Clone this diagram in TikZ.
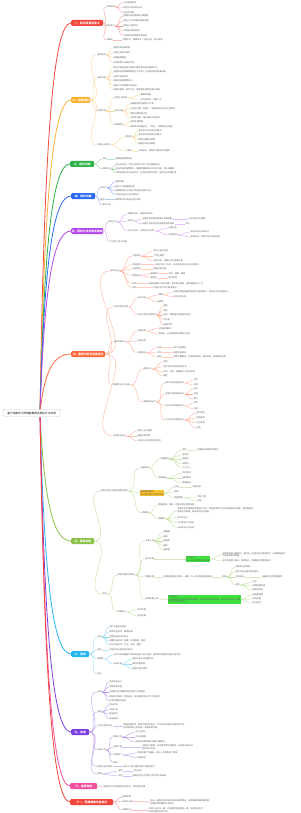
\documentclass[tikz,border=0pt]{standalone}
\usepackage{fontspec}
\newfontfamily\cjk{Noto Sans CJK SC}
\definecolor{cR}{HTML}{F2473F}
\definecolor{cY}{HTML}{F8B133}
\definecolor{cG}{HTML}{2DB34A}
\definecolor{cB}{HTML}{2C6BF0}
\definecolor{cP}{HTML}{B347E8}
\definecolor{cC}{HTML}{FF6B3F}
\definecolor{cL}{HTML}{8BC34A}
\definecolor{cCy}{HTML}{27B5F2}
\definecolor{cV}{HTML}{7B3FE0}
\definecolor{cPk}{HTML}{F0509C}
\definecolor{cRt}{HTML}{F4453C}
\definecolor{hY}{HTML}{F5BE2A}
\definecolor{hG}{HTML}{3DE03D}
\tikzset{
  lf/.style={font=\cjk\fontsize{2.1}{2.6}\selectfont, inner sep=0.3pt, anchor=west, text=black!62, align=left},
  Lone/.style={font=\cjk\bfseries\fontsize{2.8}{3.2}\selectfont, text=white, fill=#1, rounded corners=1.2pt, inner sep=0.6pt, minimum height=6pt, anchor=west},
  lk/.style={draw=#1, line width=0.8pt},
  br/.style={cl/.style={draw=#1!55, line width=.35pt}, chl/.style={draw=#1!35, line width=.8pt}},
}
\newcommand\kd[4]{\node[lf] (#2) at (#3) {#4}; \draw[cl] (#1.east) to[out=0,in=180] (#2.west);}
\newcommand\chn[4]{\node[lf] (#2) at (#3) {#4}; \draw[chl] (#1.east) -- (#2.west);}
\begin{document}
\begin{tikzpicture}[x=1pt,y=-1pt]
\fill[white] (0,0) rectangle (300,813);
\useasboundingbox (0,0) rectangle (300,813);

% level-1 nodes
\node[Lone=cR, minimum width=32pt] (r) at (71,23) {一、研究背景及意义};
\node[Lone=cY, minimum width=19pt] (y) at (71,100) {二、文献综述};
\node[Lone=cG, minimum width=24pt] (g) at (70,164) {三、研究目标};
\node[Lone=cB, minimum width=24pt] (b) at (71,196) {四、研究内容};
\node[Lone=cP, minimum width=32pt] (p) at (71,231) {五、研究方法与技术路线};
\node[Lone=cC, minimum width=34pt] (c) at (71,354) {六、需求分析与总体设计};
\node[Lone=cL, minimum width=23pt] (l) at (71,541) {七、系统实现};
\node[Lone=cCy, minimum width=18pt] (cy) at (71,654) {八、测试};
\node[Lone=cV, minimum width=18pt] (v) at (71,732) {九、总结};
\node[Lone=cPk, minimum width=27pt] (pk) at (70,786) {十、进度安排};
\node[Lone=cRt, minimum width=43pt] (rt) at (70,802) {十一、预期成果与创新点};

\coordinate (o) at (40,413);
\draw[lk=cR] (o) .. controls (44,159.5) and (52,23) .. (r.west);
\draw[lk=cY] (o) .. controls (44,209.6) and (52,100) .. (y.west);
\draw[lk=cG] (o) .. controls (44,251) and (52,164) .. (g.west);
\draw[lk=cB] (o) .. controls (44,272) and (52,196) .. (b.west);
\draw[lk=cP] (o) .. controls (44,294.7) and (52,231) .. (p.west);
\draw[lk=cC] (o) .. controls (44,374.7) and (52,354) .. (c.west);
\draw[lk=cL] (o) .. controls (44,496.2) and (52,541) .. (l.west);
\draw[lk=cCy] (o) .. controls (44,569.6) and (52,654) .. (cy.west);
\draw[lk=cV] (o) .. controls (44,620.4) and (52,732) .. (v.west);
\draw[lk=cPk] (o) .. controls (44,655.4) and (52,786) .. (pk.west);
\draw[lk=cRt] (o) .. controls (44,666) and (52,802) .. (rt.west);

\node[font=\cjk\fontsize{2.7}{3.2}\selectfont, draw=black!20, fill=white, rounded corners=2pt, minimum width=57pt, minimum height=7.5pt, inner sep=0.5pt, anchor=west, line width=.4pt] (root) at (3,413) {基于深度学习的智能推荐系统设计与实现};

% ---------- branch 1
\begin{scope}[br=cR]
\kd{r}{r1}{106,7}{研究背景}
\kd{r1}{r11}{123,2.7}{行业发展现状}
\kd{r1}{r12}{123,7.3}{国内外研究现状分析}
\kd{r1}{r13}{123,12.3}{存在的问题}
\kd{r}{r2}{106,26}{研究意义}
\kd{r2}{r21}{123,16}{提高信息处理效率与准确性}
\kd{r2}{r22}{123,21}{降低人工成本提升服务质量}
\kd{r2}{r23}{123,26}{推动行业数字化}
\kd{r2}{r24}{123,31}{丰富相关理论研究}
\kd{r2}{r25}{123,35.5}{为后续研究提供参考依据}
\kd{r}{r3}{106,40}{关键词}
\chn{r3}{r31}{122,40}{深度学习\quad 推荐算法\quad 协同过滤\quad 用户画像}
\end{scope}

% ---------- branch 2
\begin{scope}[br=cY]
\kd{y}{y1}{97,55}{国内研究}
\kd{y1}{y11}{113,48}{推荐系统发展历程}
\kd{y1}{y12}{113,53}{协同过滤算法研究}
\kd{y1}{y13}{113,57.5}{深度推荐模型}
\kd{y1}{y14}{113,62.5}{混合推荐方法研究现状}
\kd{y}{y2}{97,78}{国外研究}
\kd{y2}{y21}{113,67.5}{国外学者提出基于矩阵分解的协同过滤推荐方法}
\kd{y2}{y22}{113,72}{深度神经网络推荐模型在工业界广泛应用并取得显著成效}
\kd{y2}{y23}{113,76.5}{注意力机制研究}
\kd{y2}{y24}{113,81}{图神经网络推荐方法}
\kd{y2}{y25}{113,85.5}{强化学习在推荐中的应用}
\kd{y2}{y26}{113,89.5}{多模态推荐：融合文本、图像等多源信息提升效果}
\kd{y}{y3}{97,111}{研究评述}
\kd{y3}{y31}{114,98}{现有方法优势}
\kd{y31}{y311}{140,95}{准确率较高}
\kd{y31}{y312}{140,100}{可扩展性好，应用广泛}
\kd{y3}{y32}{114,111}{存在问题}
\kd{y32}{y321}{130,104}{数据稀疏性问题较为严重}
\kd{y32}{y322}{130,109}{冷启动问题：新用户、新物品缺乏历史交互数据}
\kd{y32}{y323}{130,113.5}{模型可解释性不足}
\kd{y32}{y324}{130,118}{实时性较差，难以满足动态需求}
\kd{y3}{y33}{114,125}{发展趋势}
\kd{y33}{y331}{130,122}{融合多源数据}
\kd{y33}{y332}{130,127}{推荐系统向智能化、个性化、可解释方向发展}
\kd{y}{y4}{97,145}{相关技术综述}
\kd{y4}{y41}{125,137}{算法类}
\kd{y41}{y411}{138,131}{基于用户的协同过滤算法}
\kd{y41}{y412}{138,135}{基于物品的协同过滤算法}
\kd{y41}{y413}{138,139.5}{矩阵分解算法原理}
\kd{y41}{y414}{138,143.5}{神经协同过滤模型}
\kd{y4}{y42}{125,151}{工具类}
\chn{y42}{y421}{138,151}{开发语言、深度学习框架与数据库}
\end{scope}

% ---------- branch 3
\begin{scope}[br=cG]
\kd{g}{g1}{102,159}{总体}
\chn{g1}{g11}{115,159}{构建智能推荐系统}
\kd{g}{g2}{102,169}{具体目标}
\kd{g2}{g21}{115,165}{设计并实现一个基于深度学习的个性化推荐系统}
\kd{g2}{g22}{115,169}{提出改进的推荐算法，缓解数据稀疏与冷启动问题，提升准确率}
\kd{g2}{g23}{115,173}{完成系统测试与性能评估，验证系统的有效性、稳定性与实用价值}
\end{scope}

% ---------- branch 4
\begin{scope}[br=cB]
\kd{b}{b1}{100,188}{研究点}
\kd{b1}{b11}{115,182}{数据采集}
\kd{b1}{b12}{115,186.5}{用户行为数据预处理}
\kd{b1}{b13}{115,191}{推荐模型设计与用户物品特征融合方法}
\kd{b1}{b14}{115,195}{系统功能设计与开发实现}
\kd{b}{b2}{100,199.5}{重点}
\chn{b2}{b21}{115,199.5}{推荐算法的改进与优化实现}
\kd{b}{b3}{102,205}{难点分析}
\end{scope}

% ---------- branch 5
\begin{scope}[br=cP]
\kd{p}{p1}{108,222}{研究方法}
\kd{p1}{p11}{127,214}{文献研究法：查阅相关资料}
\kd{p1}{p12}{127,221}{实验法}
\kd{p12}{p121}{142,219}{搭建实验环境并使用公开数据集}
\chn{p121}{p1211}{188,219}{公开电影评分数据}
\kd{p12}{p122}{142,224}{设置对比实验评估各模型推荐效果}
\chn{p122}{p1221}{185,224}{评估}
\kd{p1}{p13}{127,231}{对比分析法：与现有方法对比}
\kd{p13}{p131}{168,228}{定量分析}
\kd{p13}{p132}{168,235}{技术路线}
\kd{p132}{p1321}{190,232}{需求分析与总体设计}
\kd{p132}{p1322}{190,237}{系统测试、性能评估与总结归纳}
\kd{p}{p2}{110,242}{可行性分析与评估}
\end{scope}

% ---------- branch 6
\begin{scope}[br=cC]
\kd{c}{cA}{110,271}{需求分析}
\kd{cA}{cA1}{132,256}{功能需求}
\kd{cA1}{cA11}{153,251}{用户注册与登录}
\kd{cA1}{cA12}{153,256}{个性化推荐}
\kd{cA1}{cA13}{153,261}{浏览记录、收藏与评分管理功能}
\kd{cA}{cA2}{132,264.5}{性能需求}
\chn{cA2}{cA21}{155,264.5}{响应时间小于2秒，支持高并发访问与实时更新}
\kd{cA}{cA3}{132,269}{安全需求}
\chn{cA3}{cA31}{153,269}{数据加密存储}
\kd{cA}{cA4}{132,275.5}{角色需求}
\kd{cA4}{cA41}{150,273.5}{普通用户}
\chn{cA41}{cA411}{168,273.5}{浏览、搜索、推荐}
\kd{cA4}{cA42}{150,278}{管理员}
\chn{cA42}{cA421}{168,278}{用户管理}
\kd{cA}{cA5}{132,283.5}{约束}
\chn{cA5}{cA51}{148,283.5}{系统需兼容主流浏览器，界面简洁美观，操作便捷易于上手}
\kd{cA}{cA6}{132,287.5}{其他}
\chn{cA6}{cA61}{153,287.5}{可维护性与可扩展性要求}
\kd{c}{cB}{113,307}{设计原则与目标}
\kd{cB}{cB1}{137,298}{设计原则}
\kd{cB1}{cB11}{157,295}{可靠性}
\kd{cB11}{cB111}{173,292}{系统应具备较高的稳定性与容错能力，保证长时间可靠运行}
\kd{cB11}{cB112}{173,297}{易于维护升级}
\kd{cB1}{cB12}{157,302}{易用性}
\kd{cB}{cB2}{137,315}{设计目标与约束条件}
\kd{cB2}{cB21}{163,306}{高效}
\kd{cB2}{cB22}{163,310.5}{稳定}
\kd{cB2}{cB23}{163,315}{安全：保障用户数据隐私安全}
\kd{cB2}{cB24}{163,319.5}{可扩展}
\kd{cB2}{cB25}{163,324.5}{易操作性}
\kd{c}{cCc}{113,342}{系统架构设计}
\kd{cCc}{cC1}{137,331}{总体架构}
\kd{cC1}{cC11}{158,328.5}{三层架构模式}
\kd{cC1}{cC12}{158,334}{表现层、业务逻辑层与数据访问层}
\kd{cCc}{cC2}{137,341}{技术选型}
\kd{cCc}{cC3}{137,353}{功能模块}
\kd{cC3}{cC31}{157,347.5}{前台}
\chn{cC31}{cC311}{173,347.5}{用户功能模块}
\kd{cC3}{cC32}{157,352.5}{后台}
\chn{cC32}{cC321}{173,352.5}{管理功能模块}
\kd{cC3}{cC33}{157,357}{算法}
\chn{cC33}{cC331}{173,357}{推荐引擎模块：负责数据处理、模型训练、推荐结果生成}
\kd{c}{cD}{113,385}{数据库设计与实现}
\kd{cD}{cD1}{143,369}{概念设计}
\kd{cD1}{cD11}{163,361.7}{实体}
\kd{cD1}{cD12}{163,366.7}{用户实体与物品实体关系}
\kd{cD1}{cD13}{163,371.7}{评分、浏览、收藏等行为关系实体}
\kd{cD1}{cD14}{163,376}{属性}
\kd{cD}{cD2}{143,402}{逻辑结构设计}
\kd{cD2}{cD21}{165,383}{用户信息表结构设计}
\kd{cD21}{cD211}{193,380}{字段}
\kd{cD21}{cD212}{193,385}{主键}
\kd{cD2}{cD22}{165,394}{物品信息表结构设计}
\kd{cD22}{cD221}{193,389}{字段}
\kd{cD22}{cD222}{193,394}{主键}
\kd{cD22}{cD223}{193,399}{索引}
\kd{cD2}{cD23}{165,406}{评分记录表结构设计}
\kd{cD23}{cD231}{193,403}{字段}
\kd{cD23}{cD232}{193,409}{外键}
\kd{cD2}{cD24}{165,420}{行为日志表结构设计}
\kd{cD24}{cD241}{196,413}{用户编号}
\kd{cD24}{cD242}{196,418}{物品编号}
\kd{cD24}{cD243}{196,423}{行为类型}
\kd{cD24}{cD244}{196,428}{时间}
\kd{c}{cE}{113,436}{系统安全设计}
\kd{cE}{cE1}{137,431}{身份认证与授权}
\kd{cE}{cE2}{137,436}{数据加密传输}
\kd{cE}{cE3}{137,441}{日志审计与异常监控机制}
\end{scope}

% ---------- branch 7
\begin{scope}[br=cL]
\kd{l}{l1}{100,491}{开发环境与主要功能模块实现}
\kd{l1}{l11}{140,468}{功能模块}
\kd{l11}{l111}{160,459}{前端模块}
\kd{l111}{l1111}{182,450}{首页}
\chn{l1111}{l11111}{197,450}{轮播图与推荐列表展示}
\kd{l111}{l1112}{182,454.5}{登录页}
\kd{l111}{l1113}{182,459}{搜索页}
\kd{l111}{l1114}{182,463.5}{详情页}
\kd{l111}{l1115}{182,468}{个人中心}
\kd{l11}{l112}{158,478}{后端模块}
\kd{l112}{l1121}{182,473}{用户服务}
\kd{l112}{l1122}{182,478}{推荐服务}
\kd{l112}{l1123}{182,483}{数据服务}
\node[lf, fill=hY, inner sep=0.5pt] (l12) at (140,493) {推荐算法模块\\核心算法设计与优化实现};
\draw[cl] (l1.east) to[out=0,in=180] (l12.west);
\kd{l12}{l121}{174,487}{召回}
\chn{l121}{l1211}{192,487}{多路召回}
\kd{l12}{l122}{174,492}{粗排}
\kd{l12}{l123}{174,498}{精排模型}
\kd{l123}{l1231}{197,497}{特征工程}
\kd{l123}{l1232}{197,501}{训练}
\kd{l1}{l13}{142,513}{数据层}
\kd{l13}{l131}{158,505}{数据采集、清洗、存储与特征提取处理}
\kd{l13}{l132}{158,519}{数据库}
\kd{l132}{l1321}{177,510.5}{采用关系型数据库存储用户信息、物品信息和行为日志等结构化数据，并使用缓存\\保存热点数据，提高系统访问速度}
\kd{l132}{l1322}{177,517.5}{用户表设计}
\kd{l132}{l1323}{177,522.5}{评分表设计与实现}
\kd{l132}{l1324}{177,527.5}{日志表设计与实现}
\kd{l}{l2}{102,594}{实现}
\kd{l2}{l21}{117,575}{系统关键技术实现}
\kd{l21}{l211}{145,541}{开发工具}
\kd{l211}{l2111}{163,532}{编辑器}
\kd{l211}{l2112}{163,536.5}{框架}
\kd{l211}{l2113}{163,541}{数据库}
\kd{l211}{l2114}{163,545.5}{缓存}
\kd{l211}{l2115}{163,550}{服务器}
\kd{l21}{l212}{145,559}{接口开发}
\node[lf, fill=hG, inner sep=0.5pt] (l2121) at (186,559) {接口设计\\统一接口规范与数据格式};
\draw[cl] (l212.east) to[out=0,in=180] (l2121.west);
\kd{l2121}{l21211}{222,554.5}{采用前后端分离架构，通过统一的接口进行数据交互，返回数据格式\\为标准结构化数据}
\kd{l2121}{l21212}{222,561}{接口包括用户接口、推荐接口、数据接口及管理接口}
\kd{l21}{l213}{145,577}{数据处理}
\chn{l213}{l2131}{163,577}{对原始数据进行清洗、去重、归一化与特征编码处理}
\chn{l2131}{l2132}{222,577}{结果}
\kd{l2132}{l21321}{235,567}{训练集与测试集}
\kd{l2132}{l21322}{235,572}{用户特征向量与物品特征}
\kd{l2132}{l21323}{235,577}{评估指标}
\chn{l21323}{l213231}{262,577}{准确率 召回率 覆盖率}
\kd{l2132}{l21324}{235,585}{其他}
\kd{l21324}{l213241}{252,582}{日志}
\kd{l21324}{l213242}{252,586}{异常数据处理}
\kd{l21324}{l213243}{252,590}{缺失值填充}
\kd{l21}{l214}{145,599}{系统部署上线}
\node[lf, fill=hG, inner sep=0.5pt] (l2141) at (168,599.5) {部署方案\\使用容器化技术部署系统各模块，实现服务的快速发布、弹性扩展与统一管理\\保证系统稳定运行};
\draw[chl] (l214.east) -- (l2141.west);
\kd{l2141}{l21411}{252,595}{服务器配置}
\kd{l2141}{l21412}{252,599}{环境变量}
\kd{l2141}{l21413}{252,603}{运行监控}
\kd{l2}{l22}{117,612}{界面展示}
\kd{l22}{l221}{137,610}{前台界面}
\kd{l22}{l222}{137,616}{后台界面}
\end{scope}

% ---------- branch 8
\begin{scope}[br=cCy]
\kd{cy}{cy1}{97,637}{功能}
\kd{cy1}{cy11}{109,627}{用户注册登录测试}
\kd{cy1}{cy12}{109,632}{推荐功能测试：推荐结果}
\kd{cy1}{cy13}{109,637}{搜索功能测试与验证}
\kd{cy1}{cy14}{109,641}{收藏功能测试：收藏、取消收藏、查看}
\kd{cy1}{cy15}{109,645}{评分功能测试：评分、修改、删除}
\kd{cy}{cy2}{97,650}{性能}
\chn{cy2}{cy21}{109,650}{并发测试与响应时间测试}
\kd{cy}{cy3}{97,659}{兼容性}
\kd{cy3}{cy31}{113,655}{在不同浏览器和不同终端设备上进行测试，确保系统界面与功能正常显示}
\kd{cy3}{cy32}{113,664}{测试环境}
\kd{cy32}{cy321}{132,659}{操作系统与浏览器版本}
\kd{cy32}{cy322}{132,664}{硬件配置参数}
\kd{cy32}{cy323}{132,669}{网络环境与带宽}
\kd{cy}{cy4}{97,674}{结论}
\end{scope}

% ---------- branch 9
\begin{scope}[br=cV]
\kd{v}{v1}{97,692}{总结}
\kd{v1}{v11}{109,682}{完成系统设计}
\kd{v1}{v12}{109,687}{实现推荐功能}
\kd{v1}{v13}{109,692}{改进算法在准确率和召回率上均有提升}
\kd{v1}{v14}{109,696.5}{系统运行稳定，界面友好，基本满足用户的个性化需求}
\kd{v1}{v15}{109,701}{达到预期研究目标}
\kd{v}{v2}{97,712}{展望}
\kd{v2}{v21}{109,705}{算法优化}
\kd{v2}{v22}{109,709.5}{功能扩展}
\kd{v2}{v23}{109,714}{性能提升}
\kd{v2}{v24}{109,718.5}{多端适配}
\kd{v}{v3}{97,726}{不足与改进方向}
\chn{v3}{v31}{123,726}{数据规模有限，模型训练时间较长，对冷启动问题的处理仍有不足\\实时推荐能力有待进一步提高和完善}
\kd{v}{v4}{97,750}{后续工作}
\kd{v4}{v41}{113,737}{算法优化}
\kd{v41}{v411}{135,732}{引入注意力}
\kd{v41}{v412}{135,737}{引入图网络}
\kd{v41}{v413}{135,742}{融合知识图谱提升推荐可解释性}
\kd{v4}{v42}{113,747}{系统扩展}
\chn{v42}{v421}{142,747}{增加社交推荐、实时推荐等功能模块，支持移动端访问\\提升用户体验}
\kd{v4}{v43}{113,755}{应用推广}
\kd{v43}{v431}{137,753}{将系统推广到电商、新闻、视频等多个领域}
\kd{v43}{v432}{137,757.5}{持续迭代}
\kd{v4}{v44}{113,762.5}{其他}
\kd{v}{v5}{97,766.5}{经验总结与体会}
\chn{v5}{v51}{123,766.5}{提升了分析问题与解决问题的能力}
\kd{v}{v6}{97,774}{致谢}
\kd{v6}{v61}{118,771}{导师}
\chn{v61}{v611}{133,771}{悉心指导}
\kd{v6}{v62}{118,776}{同学}
\chn{v62}{v621}{132,776}{感谢同学在学习和生活中给予的帮助}
\end{scope}

% ---------- branch 10
\begin{scope}[br=cPk]
\chn{pk}{pk1}{103,787}{按照时间节点完成各阶段任务，按时提交成果}
\end{scope}

% ---------- branch 11
\begin{scope}[br=cRt]
\kd{rt}{rt1}{122,797}{预期成果}
\kd{rt}{rt2}{122,801.5}{创新点分析}
\chn{rt2}{rt21}{150,802}{提出一种融合多源信息的改进推荐算法，有效缓解数据稀疏问题\\提高推荐准确率与多样性}
\kd{rt}{rt3}{122,810}{成果形式}
\chn{rt3}{rt31}{148,810}{完成毕业论文一篇，实现推荐系统原型一套，发表相关论文\\形成完整的技术文档}
\end{scope}
\end{tikzpicture}
\end{document}
